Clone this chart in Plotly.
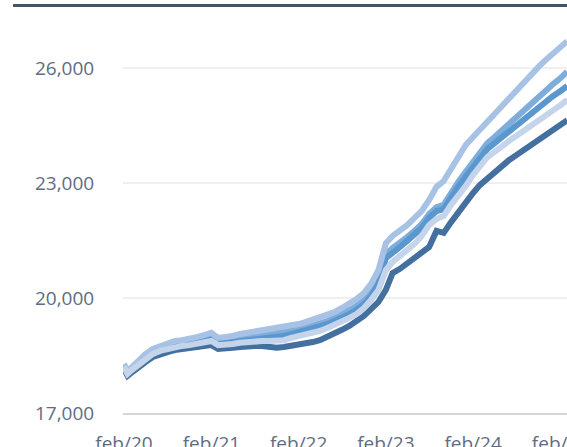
import pandas as pd
import plotly.graph_objects as go

# x positions: first month, a mid-February point, then monthly to Mar 2025
dates = ["2020-02-01", "2020-02-16"] + [d.strftime("%Y-%m-%d") for d in pd.date_range("2020-03-01", "2025-03-01", freq="MS")]

tick_dates = ["2020-02-01", "2021-02-01", "2022-02-01", "2023-02-01", "2024-02-01", "2025-02-01"]
tick_labels = ["feb/20", "feb/21", "feb/22", "feb/23", "feb/24", "feb/25"]
y_ticks = [17000, 20000, 23000, 26000]

series_light = [18280, 18100, 18170, 18360, 18540, 18670, 18750, 18830, 18880, 18900, 18930, 18980, 19030, 19090,
                18960, 18980, 19010, 19060, 19090, 19110, 19140, 19170, 19190, 19220, 19270, 19320, 19370, 19430,
                19480, 19560, 19630, 19740, 19840, 19970, 20130, 20370, 20730, 21430, 21620, 21750, 21900, 22090,
                22270, 22560, 22900, 23050, 23390, 23700, 23990, 24200, 24410, 24620, 24800, 25010, 25220, 25400,
                25610, 25840, 26030, 26210, 26370, 26550, 26700]
series_midlight = [18250, 18070, 18150, 18300, 18490, 18620, 18700, 18750, 18800, 18830, 18850, 18880, 18930, 18980,
                   18880, 18880, 18900, 18930, 18960, 18980, 19010, 19030, 19060, 19090, 19140, 19190, 19220, 19270,
                   19320, 19400, 19480, 19580, 19690, 19790, 19950, 20160, 20470, 21150, 21300, 21430, 21590, 21750,
                   21930, 22190, 22370, 22430, 22770, 23030, 23290, 23550, 23810, 24040, 24200, 24380, 24540, 24720,
                   24880, 25060, 25240, 25400, 25580, 25740, 25900]
series_mid = [18230, 18040, 18120, 18280, 18430, 18570, 18640, 18700, 18750, 18770, 18800, 18830, 18880, 18930,
              18830, 18830, 18850, 18880, 18900, 18930, 18960, 18960, 18980, 19010, 19060, 19110, 19140, 19190,
              19240, 19320, 19400, 19480, 19580, 19690, 19840, 20050, 20370, 21040, 21200, 21330, 21490, 21640,
              21830, 22090, 22270, 22320, 22630, 22900, 23160, 23390, 23650, 23890, 24040, 24200, 24360, 24510,
              24670, 24830, 24980, 25140, 25270, 25400, 25530]
series_pale = [18200, 18020, 18100, 18250, 18410, 18540, 18620, 18670, 18720, 18750, 18770, 18800, 18850, 18880,
               18770, 18770, 18800, 18830, 18850, 18880, 18880, 18880, 18880, 18900, 18960, 19010, 19030, 19090,
               19140, 19220, 19300, 19370, 19480, 19580, 19740, 19950, 20210, 20730, 20940, 21100, 21250, 21410,
               21620, 21900, 22060, 22140, 22430, 22660, 22920, 23210, 23470, 23680, 23810, 23970, 24100, 24230,
               24360, 24490, 24640, 24770, 24900, 25030, 25170]
series_dark = [18150, 17970, 18040, 18200, 18330, 18460, 18540, 18590, 18640, 18670, 18700, 18720, 18750, 18770,
               18670, 18670, 18700, 18720, 18750, 18750, 18750, 18720, 18700, 18720, 18750, 18770, 18800, 18850,
               18900, 18980, 19060, 19170, 19270, 19400, 19530, 19710, 19900, 20210, 20650, 20760, 20890, 21020,
               21150, 21330, 21750, 21700, 21980, 22240, 22480, 22740, 22950, 23130, 23290, 23440, 23600, 23730,
               23860, 23990, 24120, 24250, 24380, 24510, 24640]

fig = go.Figure()
# draw order: dark, mid-light, mid, light, pale on top
for vals, color in [(series_dark, "#43709e"), (series_midlight, "#7faddb"), (series_mid, "#5b97cf"),
                    (series_light, "#a7c2e5"), (series_pale, "#c3d4eb")]:
    fig.add_trace(go.Scatter(x=dates, y=vals, mode="lines", line=dict(color=color, width=6),
                             showlegend=False, hoverinfo="skip"))

font_col = "#5e6c84"
fig.update_layout(
    width=567, height=447,
    margin=dict(l=123, r=0, t=8, b=34, autoexpand=False),
    paper_bgcolor="white", plot_bgcolor="white",
    font=dict(family="Open Sans", size=19, color=font_col),
    xaxis=dict(type="date", range=["2020-01-28", "2025-02-28"], tickvals=tick_dates, ticktext=tick_labels,
               showgrid=False, showline=True, linecolor="#d6d6d6", linewidth=2, automargin=False,
               ticklabeloverflow="allow",
               ticks="outside", ticklen=12, tickcolor="rgba(0,0,0,0)", zeroline=False),
    yaxis=dict(range=[17000, 27565], tickvals=y_ticks, tickformat=",d", showgrid=True, gridcolor="#efefef",
               gridwidth=2, zeroline=False, ticks="outside", ticklen=24, tickcolor="rgba(0,0,0,0)",
               automargin=False),
    shapes=[dict(type="line", xref="paper", yref="paper", x0=-0.2477, x1=1, y0=1.0062, y1=1.0062,
                 line=dict(color="#44546a", width=3))],
)

fig.write_html("out.html", config={"displayModeBar": False},
               post_script="document.body.style.margin='0';document.body.style.overflow='hidden';")
